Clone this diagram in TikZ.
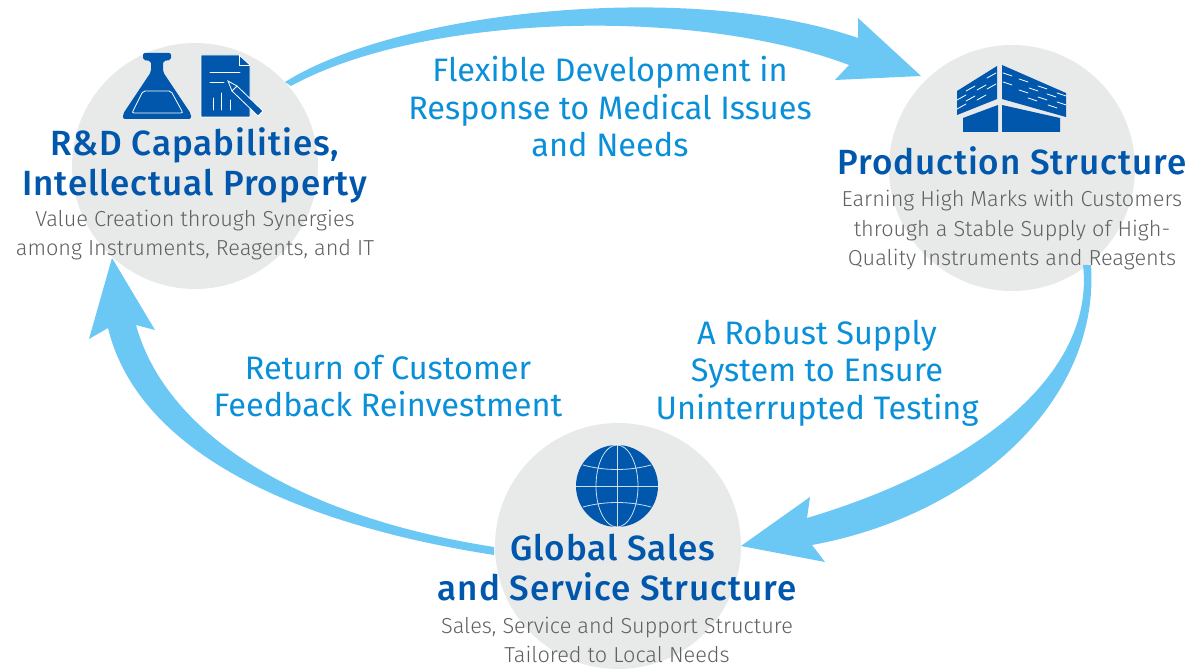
\documentclass[tikz,border=0pt]{standalone}
\usepackage{fontspec}
\setmainfont{Fira Sans}
\newfontfamily\lightfont{Fira Sans Light}
\newfontfamily\mediumfont[LetterSpace=2.6]{Fira Sans Medium}
\definecolor{circlegray}{HTML}{E8E9E9}
\definecolor{arrowblue}{HTML}{6BC7F4}
\definecolor{titleblue}{HTML}{0057AB}
\definecolor{flowblue}{HTML}{0A8FD9}
\definecolor{bodygray}{HTML}{606060}
\tikzset{
    stagecircle/.style={circle, fill=circlegray, minimum size=246pt, inner sep=0pt},
    flowlabel/.style={align=center, text=flowblue, font=\fontsize{32.5}{37.5}\selectfont},
    titlelabel/.style={align=center, text=titleblue, font=\mediumfont\fontsize{35}{40}\selectfont},
    bodylabel/.style={align=center, text=bodygray, font=\lightfont\fontsize{21.7}{29.5}\selectfont},
    flowarrow/.style={fill=arrowblue},
    iconwhite/.style={draw=white, line width=0.8pt, line cap=round},
}
\begin{document}
\begin{tikzpicture}[x=1pt,y=-1pt]
    \useasboundingbox (0,0) rectangle (1195,671);

    % the three stage circles
    \node[stagecircle] (rd) at (195,166) {};
    \node[stagecircle] (production) at (1012,168) {};
    \node[stagecircle] (sales) at (618,546) {};

    % arrow from rd to production
    \fill[flowarrow] (285,82) .. controls (400,10) and (690,-20) .. (858,38)
        -- (858,18) -- (921,76) -- (835,80) -- (849,65)
        .. controls (690,5) and (420,15) .. (291,86) -- cycle;

    % arrow from production to sales
    \fill[flowarrow] (1083,265) .. controls (1095,370) and (985,465) .. (807,518)
        -- (810,497) -- (741,546) -- (825,562) -- (812,545)
        .. controls (975,515) and (1100,400) .. (1091,265) -- cycle;

    % arrow from sales to rd
    \fill[flowarrow] (494,555) .. controls (270,520) and (135,440) .. (108,328)
        -- (89,339) -- (112,258) -- (155,330) -- (136,325)
        .. controls (165,430) and (290,515) .. (494,547) -- cycle;

    % flask
    \fill[titleblue, rounded corners=2pt] (143,53) -- (171,53) -- (171,60) -- (163,61) -- (163,72)
        -- (191,114) -- (191,119) -- (123,119) -- (123,114) -- (151,72) -- (151,61) -- (143,60) -- cycle;
    \draw[iconwhite, rounded corners=2pt] (143,91) -- (171,91) -- (183,113) -- (132,113) -- cycle;

    % document with pen
    \fill[titleblue, draw=white, line width=0.8pt] (201,55) -- (239,55) -- (250,65) -- (250,117) -- (201,117) -- cycle;
    \draw[iconwhite] (239,55) -- (239,65) -- (250,65);
    \draw[iconwhite] (210,72) -- (240,72);
    \draw[iconwhite] (210,82) -- (224,82);
    \draw[iconwhite] (213,98) -- (213,110);
    \draw[iconwhite] (221,93) -- (221,110);
    \draw[iconwhite] (230,100) -- (230,110);
    \fill[titleblue, draw=white, line width=0.8pt] (228,81) -- (237,86) -- (263,111) -- (258,116) -- (232,91) -- cycle;
    \draw[iconwhite] (232,91) -- (237,86);

    % factory
    \fill[titleblue] (957,91) -- (997,66) -- (997,99) -- (957,115) -- cycle;
    \fill[titleblue] (1002,65) -- (1066,93) -- (1066,117) -- (1002,99) -- cycle;
    \fill[titleblue] (963,118) -- (998,105) -- (998,132) -- (963,132) -- cycle;
    \fill[titleblue] (1002,105) -- (1060,118) -- (1060,132) -- (1002,132) -- cycle;
    \foreach \xa/\ya in {987/78,966/91,977/90,987/89,957/100,966/101,977/100,957/109}
        \draw[iconwhite] (\xa,\ya) -- ++(9,-5);
    \foreach \xa/\ya in {1003/73,1019/79,1029/88,1038/86,1047/94,1057/93,1003/82,1019/90,1028/98,1038/97,1048/105,1057/102}
        \draw[iconwhite] (\xa,\ya) -- ++(9,3);

    % globe
    \fill[titleblue] (617,486) circle (41);
    \draw[iconwhite, opacity=0.8] (576,486) -- (658,486);
    \draw[iconwhite, opacity=0.8] (617,445) -- (617,527);
    \draw[iconwhite, opacity=0.8] (617,486) ellipse (21 and 41);
    \draw[iconwhite, opacity=0.8] (583,465) .. controls (605,471) and (629,471) .. (651,465);
    \draw[iconwhite, opacity=0.8] (583,507) .. controls (605,501) and (629,501) .. (651,507);

    % text in the circles
    \node[titlelabel] (rdtitle) at (195,165) {R\&D Capabilities,\\Intellectual Property};
    \node[bodylabel] (rdbody) at (195,235) {Value Creation through Synergies\\among Instruments, Reagents, and IT};
    \node[titlelabel] (productiontitle) at (1012,161) {Production Structure};
    \node[bodylabel] (productionbody) at (1012,230.5) {Earning High Marks with Customers\\through a Stable Supply of High-\\Quality Instruments and Reagents};
    \node[titlelabel] (salestitle) at (617,568) {Global Sales\hspace*{8pt}\\and Service Structure};
    \node[bodylabel] (salesbody) at (617,640) {Sales, Service and Support Structure\\Tailored to Local Needs};

    % text on the arrows
    \node[flowlabel] (developlabel) at (610,107) {Flexible Development in\\Response to Medical Issues\\and Needs};
    \node[flowlabel] (supplylabel) at (817,373) {A Robust Supply\\System to Ensure\\Uninterrupted Testing};
    \node[flowlabel] (returnlabel) at (388,386) {Return of Customer\\Feedback Reinvestment};
\end{tikzpicture}
\end{document}
